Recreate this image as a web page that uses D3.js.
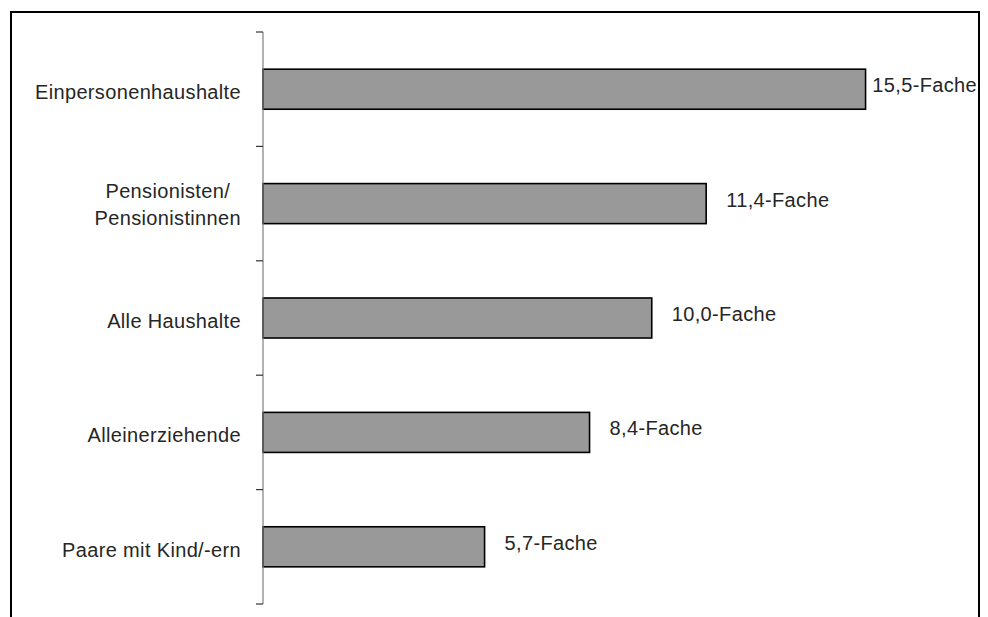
<!DOCTYPE html>
<html>
<head>
<meta charset="utf-8">
<script src="https://cdn.jsdelivr.net/npm/d3@7"></script>
<style>
  html, body { margin: 0; padding: 0; background: #fff; }
  svg { display: block; }
  text { font-family: "Liberation Sans", Arial, sans-serif; font-size: 20px; letter-spacing: 0.35px; fill: #262626; }
</style>
</head>
<body>
<svg id="chart" width="988" height="617"></svg>
<script>
// Household groups (top to bottom) and their multiples
const categories = [
  ["Einpersonenhaushalte"],
  ["Pensionisten/", "Pensionistinnen"],
  ["Alle Haushalte"],
  ["Alleinerziehende"],
  ["Paare mit Kind/-ern"]
];
const values = [15.5, 11.4, 10.0, 8.4, 5.7];
const valueSuffix = "-Fache";
const xDomain = [0, 16];

const svg = d3.select("#chart");

// outer frame
const frame = { left: 11, top: 12, right: 979, bottom: 640 };
svg.append("rect")
  .attr("x", frame.left).attr("y", frame.top)
  .attr("width", frame.right - frame.left)
  .attr("height", frame.bottom - frame.top)
  .attr("fill", "none").attr("stroke", "#000").attr("stroke-width", 2);

const plot = { left: 263, top: 32, bottom: 604 };

const keys = categories.map((c, i) => i);
const y = d3.scaleBand().domain(keys).range([plot.top, plot.bottom]).paddingInner(0).paddingOuter(0);
const x = d3.scaleLinear().domain(xDomain).range([plot.left, 885]);

const barH = y.bandwidth() * 0.35;
const locale = d3.formatLocale({ decimal: ",", thousands: ".", grouping: [3], currency: ["", " €"] });
const fmt = locale.format(".1f");

// bars
svg.append("g").selectAll("rect")
  .data(values)
  .join("rect")
  .attr("x", x(0))
  .attr("y", (d, i) => y(i) + y.bandwidth() / 2 - barH / 2)
  .attr("width", d => x(d) - x(0))
  .attr("height", barH)
  .attr("fill", "#999999")
  .attr("stroke", "#000")
  .attr("stroke-width", 1.6);

// category axis: vertical line with ticks at band boundaries
const ax = svg.append("g");
ax.append("line")
  .attr("x1", plot.left).attr("x2", plot.left)
  .attr("y1", plot.top).attr("y2", plot.bottom)
  .attr("stroke", "#7f7f7f").attr("stroke-width", 1.2);
const bounds = keys.map(k => y(k)).concat([plot.bottom]);
ax.selectAll("line.tick")
  .data(bounds)
  .join("line")
  .attr("class", "tick")
  .attr("x1", plot.left - 7).attr("x2", plot.left)
  .attr("y1", d => d).attr("y2", d => d)
  .attr("stroke", "#333").attr("stroke-width", 1.2);

// category labels, multi-line labels centered as a block
const labelRight = 241;
const lineGap = 27;
categories.forEach((lines, i) => {
  const cy = y(i) + y.bandwidth() / 2;
  const g = svg.append("g");
  const n = lines.length;
  const texts = lines.map((s, j) => g.append("text")
    .attr("y", cy + 10 + (j - (n - 1) / 2) * lineGap - (n > 1 ? 2 : 0))
    .text(s));
  const widths = texts.map(t => t.node().getComputedTextLength());
  const maxW = d3.max(widths);
  texts.forEach((t, j) => t.attr("x", labelRight - maxW + (maxW - widths[j]) / 2));
});

// value labels
svg.append("g").selectAll("text")
  .data(values)
  .join("text")
  .attr("y", (d, i) => y(i) + y.bandwidth() / 2 + 3)
  .text(d => fmt(d) + valueSuffix)
  .attr("x", function(d) {
    const w = this.getComputedTextLength();
    return Math.min(x(d) + 20, frame.right - 2 - w);
  });
</script>
</body>
</html>
